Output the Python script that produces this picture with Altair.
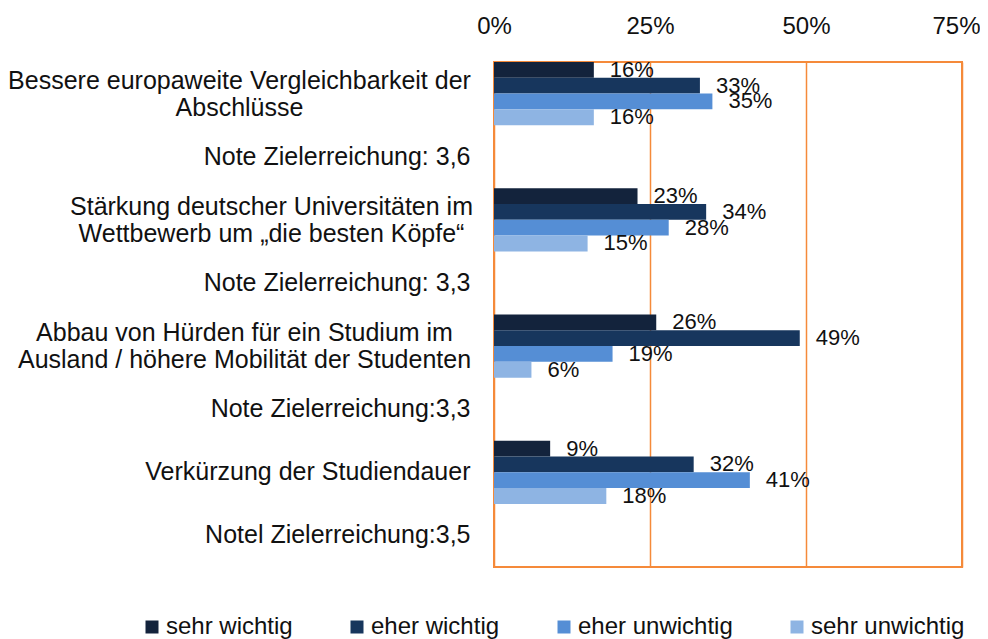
import altair as alt
import pandas as pd

rows = [
    "Bessere europaweite Vergleichbarkeit der|Abschlüsse",
    "Note Zielerreichung:  3,6",
    "Stärkung deutscher Universitäten im|Wettbewerb um „die besten Köpfe“",
    "Note Zielerreichung:  3,3",
    "Abbau von Hürden für ein Studium im|Ausland / höhere Mobilität der Studenten",
    "Note Zielerreichung:3,3",
    "Verkürzung der Studiendauer",
    "Notel Zielerreichung:3,5",
]
goals = [rows[0], rows[2], rows[4], rows[6]]
series = ["sehr wichtig", "eher wichtig", "eher unwichtig", "sehr unwichtig"]
colors = ["#13233C", "#17365D", "#558ED5", "#8EB4E3"]

sehr_wichtig = [16, 23, 26, 9]
eher_wichtig = [33, 34, 49, 32]
eher_unwichtig = [35, 28, 19, 41]
sehr_unwichtig = [16, 15, 6, 18]

ticks = [0, 25, 50, 75]

records = []
for s, vals in zip(series, [sehr_wichtig, eher_wichtig, eher_unwichtig, sehr_unwichtig]):
    for g, v in zip(goals, vals):
        records.append({"row": g, "series": s, "value": v})
df = pd.DataFrame(records)

FONT = "Liberation Sans"
ORANGE = "#F58A3A"
TEXT = "#111111"

y_axis = alt.Axis(
    title=None, domain=False, ticks=False, grid=False,
    labelExpr="split(datum.label, '|')",
    labelFont=FONT, labelFontSize=25, labelColor=TEXT,
    labelLineHeight=27, labelLimit=0,
    labelAlign={
        "condition": {"test": "indexof(datum.value, '|') >= 0", "value": "center"},
        "value": "right",
    },
    labelOffset={
        "condition": {"test": "indexof(datum.value, '|') >= 0", "value": -13},
        "value": 0,
    },
    labelPadding={
        "condition": [
            {"test": "indexof(datum.value, 'Bessere') === 0", "value": 255},
            {"test": "indexof(datum.value, 'Stärkung') === 0", "value": 223},
            {"test": "indexof(datum.value, 'Abbau') === 0", "value": 250},
        ],
        "value": 24,
    },
)

x_axis = alt.Axis(
    orient="top", title=None, values=ticks, labelExpr="datum.value + '%'",
    domain=False, ticks=False, grid=True, gridColor=ORANGE, gridWidth=1.5,
    labelFont=FONT, labelFontSize=24, labelColor=TEXT, labelPadding=24,
    labelFlush=False, labelOverlap=False,
    labelOffset={"condition": {"test": "datum.value >= 75", "value": -6}, "value": 0},
)

base = alt.Chart(df).encode(
    y=alt.Y("row:N", scale=alt.Scale(domain=rows, paddingInner=0, paddingOuter=0), axis=y_axis),
    yOffset=alt.YOffset("series:N", scale=alt.Scale(domain=series, paddingInner=0, paddingOuter=0)),
    x=alt.X("value:Q", scale=alt.Scale(domain=[0, 75], nice=False, zero=True), axis=x_axis),
)

bars = base.mark_bar().encode(
    color=alt.Color(
        "series:N",
        scale=alt.Scale(domain=series, range=colors),
        legend=alt.Legend(
            orient="none", legendX=-354, legendY=553, direction="horizontal",
            columns=4, columnPadding=52, symbolType="square", symbolSize=169,
            symbolStrokeWidth=0, labelFont=FONT, labelFontSize=24, labelColor=TEXT,
            title=None, padding=0, labelOffset=2, labelLimit=0,
        ),
    )
)

labels = base.transform_calculate(lbl="datum.value + '%'").mark_text(
    align="left", baseline="middle", dx=16, font=FONT, fontSize=22, color=TEXT
).encode(text="lbl:N")

chart = (
    alt.layer(bars, labels)
    .properties(
        width=468, height=505,
        autosize=alt.AutoSizeParams(type="none"),
        padding={"left": 486, "top": 54, "right": 18, "bottom": 72},
        background="white",
    )
    .configure_view(stroke=ORANGE, strokeWidth=2)
)

chart.save("out.html", embed_options={"renderer": "svg", "actions": False})
